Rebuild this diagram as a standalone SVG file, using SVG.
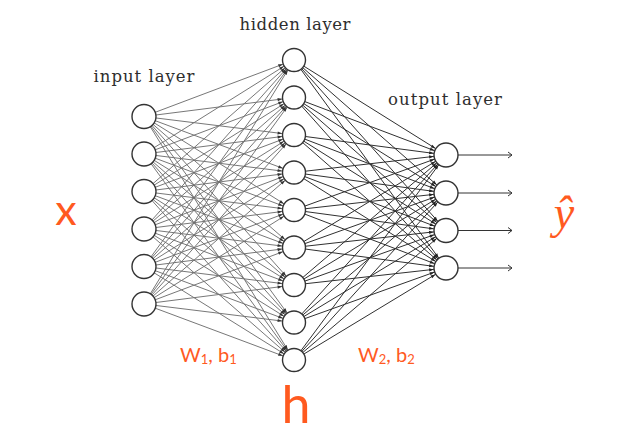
<svg xmlns="http://www.w3.org/2000/svg" width="630" height="437" viewBox="0 0 630 437">
<defs>
<style>
.l1{stroke:#707070;stroke-width:0.95;marker-end:url(#ah1)}
.l2{stroke:#303030;stroke-width:1;marker-end:url(#ah2)}
.o{stroke:#333;stroke-width:1;fill:none;marker-end:url(#oa)}
.n{fill:#fff;stroke:#333;stroke-width:1.4}
.lab{font-family:"DejaVu Serif",serif;font-size:16.5px;fill:#2e2e2e}
.or{fill:#FF5A1F;font-family:Lato,"Open Sans",sans-serif}
</style>
<marker id="ah1" markerUnits="userSpaceOnUse" orient="auto" overflow="visible" markerWidth="1" markerHeight="1"><path d="M-16.5,-1.6 L-12,0 L-16.5,1.6 z" fill="#333"/></marker>
<marker id="ah2" markerUnits="userSpaceOnUse" orient="auto" overflow="visible" markerWidth="1" markerHeight="1"><path d="M-17,-1.6 L-12.5,0 L-17,1.6 z" fill="#222"/></marker>
<marker id="oa" markerUnits="userSpaceOnUse" orient="auto" overflow="visible" markerWidth="1" markerHeight="1"><path d="M-4,-3 L0,0 L-4,3" fill="none" stroke="#333" stroke-width="1"/></marker>
</defs>
<rect width="630" height="437" fill="#fff"/>
<g id="connectors">
<line class="l1" x1="144" y1="116.5" x2="294" y2="60"/><line class="l1" x1="144" y1="116.5" x2="294" y2="97.5"/><line class="l1" x1="144" y1="116.5" x2="294" y2="135"/><line class="l1" x1="144" y1="116.5" x2="294" y2="172.5"/><line class="l1" x1="144" y1="116.5" x2="294" y2="210"/><line class="l1" x1="144" y1="116.5" x2="294" y2="247.5"/><line class="l1" x1="144" y1="116.5" x2="294" y2="285"/><line class="l1" x1="144" y1="116.5" x2="294" y2="322.5"/><line class="l1" x1="144" y1="116.5" x2="294" y2="360"/>
<line class="l1" x1="144" y1="154" x2="294" y2="60"/><line class="l1" x1="144" y1="154" x2="294" y2="97.5"/><line class="l1" x1="144" y1="154" x2="294" y2="135"/><line class="l1" x1="144" y1="154" x2="294" y2="172.5"/><line class="l1" x1="144" y1="154" x2="294" y2="210"/><line class="l1" x1="144" y1="154" x2="294" y2="247.5"/><line class="l1" x1="144" y1="154" x2="294" y2="285"/><line class="l1" x1="144" y1="154" x2="294" y2="322.5"/><line class="l1" x1="144" y1="154" x2="294" y2="360"/>
<line class="l1" x1="144" y1="191.5" x2="294" y2="60"/><line class="l1" x1="144" y1="191.5" x2="294" y2="97.5"/><line class="l1" x1="144" y1="191.5" x2="294" y2="135"/><line class="l1" x1="144" y1="191.5" x2="294" y2="172.5"/><line class="l1" x1="144" y1="191.5" x2="294" y2="210"/><line class="l1" x1="144" y1="191.5" x2="294" y2="247.5"/><line class="l1" x1="144" y1="191.5" x2="294" y2="285"/><line class="l1" x1="144" y1="191.5" x2="294" y2="322.5"/><line class="l1" x1="144" y1="191.5" x2="294" y2="360"/>
<line class="l1" x1="144" y1="229" x2="294" y2="60"/><line class="l1" x1="144" y1="229" x2="294" y2="97.5"/><line class="l1" x1="144" y1="229" x2="294" y2="135"/><line class="l1" x1="144" y1="229" x2="294" y2="172.5"/><line class="l1" x1="144" y1="229" x2="294" y2="210"/><line class="l1" x1="144" y1="229" x2="294" y2="247.5"/><line class="l1" x1="144" y1="229" x2="294" y2="285"/><line class="l1" x1="144" y1="229" x2="294" y2="322.5"/><line class="l1" x1="144" y1="229" x2="294" y2="360"/>
<line class="l1" x1="144" y1="266.5" x2="294" y2="60"/><line class="l1" x1="144" y1="266.5" x2="294" y2="97.5"/><line class="l1" x1="144" y1="266.5" x2="294" y2="135"/><line class="l1" x1="144" y1="266.5" x2="294" y2="172.5"/><line class="l1" x1="144" y1="266.5" x2="294" y2="210"/><line class="l1" x1="144" y1="266.5" x2="294" y2="247.5"/><line class="l1" x1="144" y1="266.5" x2="294" y2="285"/><line class="l1" x1="144" y1="266.5" x2="294" y2="322.5"/><line class="l1" x1="144" y1="266.5" x2="294" y2="360"/>
<line class="l1" x1="144" y1="304" x2="294" y2="60"/><line class="l1" x1="144" y1="304" x2="294" y2="97.5"/><line class="l1" x1="144" y1="304" x2="294" y2="135"/><line class="l1" x1="144" y1="304" x2="294" y2="172.5"/><line class="l1" x1="144" y1="304" x2="294" y2="210"/><line class="l1" x1="144" y1="304" x2="294" y2="247.5"/><line class="l1" x1="144" y1="304" x2="294" y2="285"/><line class="l1" x1="144" y1="304" x2="294" y2="322.5"/><line class="l1" x1="144" y1="304" x2="294" y2="360"/>
<line class="l2" x1="294" y1="60" x2="446" y2="155"/><line class="l2" x1="294" y1="60" x2="446" y2="193"/><line class="l2" x1="294" y1="60" x2="446" y2="230.5"/><line class="l2" x1="294" y1="60" x2="446" y2="268"/>
<line class="l2" x1="294" y1="97.5" x2="446" y2="155"/><line class="l2" x1="294" y1="97.5" x2="446" y2="193"/><line class="l2" x1="294" y1="97.5" x2="446" y2="230.5"/><line class="l2" x1="294" y1="97.5" x2="446" y2="268"/>
<line class="l2" x1="294" y1="135" x2="446" y2="155"/><line class="l2" x1="294" y1="135" x2="446" y2="193"/><line class="l2" x1="294" y1="135" x2="446" y2="230.5"/><line class="l2" x1="294" y1="135" x2="446" y2="268"/>
<line class="l2" x1="294" y1="172.5" x2="446" y2="155"/><line class="l2" x1="294" y1="172.5" x2="446" y2="193"/><line class="l2" x1="294" y1="172.5" x2="446" y2="230.5"/><line class="l2" x1="294" y1="172.5" x2="446" y2="268"/>
<line class="l2" x1="294" y1="210" x2="446" y2="155"/><line class="l2" x1="294" y1="210" x2="446" y2="193"/><line class="l2" x1="294" y1="210" x2="446" y2="230.5"/><line class="l2" x1="294" y1="210" x2="446" y2="268"/>
<line class="l2" x1="294" y1="247.5" x2="446" y2="155"/><line class="l2" x1="294" y1="247.5" x2="446" y2="193"/><line class="l2" x1="294" y1="247.5" x2="446" y2="230.5"/><line class="l2" x1="294" y1="247.5" x2="446" y2="268"/>
<line class="l2" x1="294" y1="285" x2="446" y2="155"/><line class="l2" x1="294" y1="285" x2="446" y2="193"/><line class="l2" x1="294" y1="285" x2="446" y2="230.5"/><line class="l2" x1="294" y1="285" x2="446" y2="268"/>
<line class="l2" x1="294" y1="322.5" x2="446" y2="155"/><line class="l2" x1="294" y1="322.5" x2="446" y2="193"/><line class="l2" x1="294" y1="322.5" x2="446" y2="230.5"/><line class="l2" x1="294" y1="322.5" x2="446" y2="268"/>
<line class="l2" x1="294" y1="360" x2="446" y2="155"/><line class="l2" x1="294" y1="360" x2="446" y2="193"/><line class="l2" x1="294" y1="360" x2="446" y2="230.5"/><line class="l2" x1="294" y1="360" x2="446" y2="268"/>
<line class="o" x1="458" y1="155" x2="512" y2="155"/><line class="o" x1="458" y1="193" x2="512" y2="193"/><line class="o" x1="458" y1="230.5" x2="512" y2="230.5"/><line class="o" x1="458" y1="268" x2="512" y2="268"/>
</g>
<g id="input-layer">
<circle class="n" cx="144" cy="116.5" r="12"/><circle class="n" cx="144" cy="154" r="12"/><circle class="n" cx="144" cy="191.5" r="12"/><circle class="n" cx="144" cy="229" r="12"/><circle class="n" cx="144" cy="266.5" r="12"/><circle class="n" cx="144" cy="304" r="12"/>
<text class="lab" x="144" y="82" text-anchor="middle" textLength="101">input layer</text>
</g>
<g id="hidden-layer">
<circle class="n" cx="294" cy="60" r="11.5"/><circle class="n" cx="294" cy="97.5" r="11.5"/><circle class="n" cx="294" cy="135" r="11.5"/><circle class="n" cx="294" cy="172.5" r="11.5"/><circle class="n" cx="294" cy="210" r="11.5"/><circle class="n" cx="294" cy="247.5" r="11.5"/><circle class="n" cx="294" cy="285" r="11.5"/><circle class="n" cx="294" cy="322.5" r="11.5"/><circle class="n" cx="294" cy="360" r="11.5"/>
<text class="lab" x="295" y="30" text-anchor="middle" textLength="111">hidden layer</text>
</g>
<g id="output-layer">
<circle class="n" cx="446" cy="155" r="12"/><circle class="n" cx="446" cy="193" r="12"/><circle class="n" cx="446" cy="230.5" r="12"/><circle class="n" cx="446" cy="268" r="12"/>
<text class="lab" x="445" y="105" text-anchor="middle" textLength="114">output layer</text>
</g>
<g id="labels">
<text class="or" x="66" y="225" font-size="43" text-anchor="middle">x</text>
<text x="564" y="228" font-size="46" fill="#FF5A1F" font-family="Liberation Serif,serif" font-style="italic" text-anchor="middle">ŷ</text>
<text class="or" x="296" y="423" font-size="52" text-anchor="middle">h</text>
<text class="or" x="180" y="362" font-size="20">W<tspan font-size="13" dy="2">1</tspan><tspan dy="-2">, b</tspan><tspan font-size="13" dy="2">1</tspan></text>
<text class="or" x="358" y="362" font-size="20">W<tspan font-size="13" dy="2">2</tspan><tspan dy="-2">, b</tspan><tspan font-size="13" dy="2">2</tspan></text>
</g>
</svg>
